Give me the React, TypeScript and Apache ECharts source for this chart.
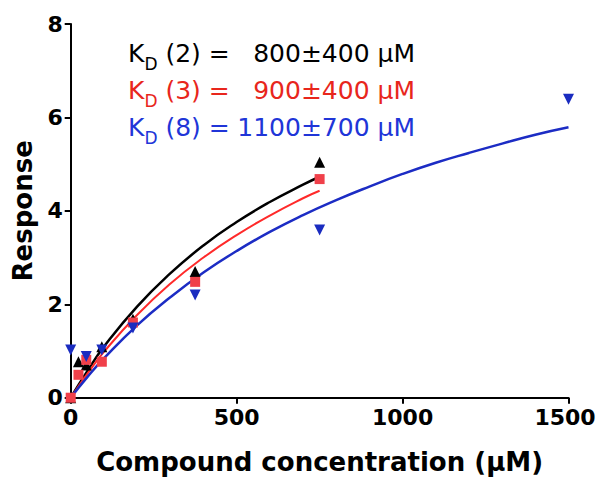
import React, { useEffect, useRef } from "react";
import * as echarts from "echarts";

// measured points
const concentrations = [0, 23.4, 46.9, 93.8, 187.5, 375, 750, 1500];
const resp2 = [0, 0.77, 0.7, 1.09, 1.68, 2.7, 5.04, null];
const resp3 = [0, 0.49, 0.81, 0.77, 1.61, 2.48, 4.68, null];
const resp8 = [1.02, null, 0.88, 1.02, 1.49, 2.2, 3.59, 6.39];

// fitted curves
const fitXShort = [0, 50, 100, 200, 300, 400, 500, 600, 700, 750];
const fit2 = [0, 0.57, 1.09, 1.95, 2.66, 3.26, 3.76, 4.19, 4.56, 4.73];
const fit3 = [0, 0.51, 0.98, 1.77, 2.44, 3.0, 3.48, 3.9, 4.27, 4.43];
const fitXLong = [0, 50, 100, 200, 300, 400, 500, 600, 700, 800, 900, 1000, 1100, 1200, 1300, 1400, 1500];
const fit8 = [0, 0.44, 0.84, 1.55, 2.15, 2.68, 3.14, 3.55, 3.91, 4.23, 4.52, 4.79, 5.03, 5.24, 5.44, 5.63, 5.79];

const xTicks = [0, 500, 1000, 1500];
const yTicks = [0, 2, 4, 6, 8];

const legendLabels = ["2", "3", "8"];
const legendValues = ["800±400 µM", "900±400 µM", "1100±700 µM"];

const FONT = "DejaVu Sans";
const BLACK = "#000000";
const RED_LINE = "#ff2a2a";
const RED_MARK = "#f0404a";
const RED_TEXT = "#e8261c";
const BLUE_LINE = "#1c2cc4";
const BLUE_MARK = "#1a2cc0";
const BLUE_TEXT = "#2035d8";

const pairs = (xs: number[], ys: (number | null)[]) =>
  xs.map((x, i) => [x, ys[i]]).filter((p) => p[1] !== null);

export default function App() {
  const ref = useRef<HTMLDivElement>(null);
  useEffect(() => {
    if (!ref.current) return;
    const chart = echarts.init(ref.current, null, { renderer: "svg" });
    const colors = [BLACK, RED_TEXT, BLUE_TEXT];
    const lineYs = [53, 90, 127];
    const graphic: any[] = [];
    legendLabels.forEach((lab, i) => {
      graphic.push({
        type: "text",
        x: 128,
        y: lineYs[i],
        style: {
          text: `{k|K}{d|D}{k| (${lab}) =}`,
          align: "left",
          verticalAlign: "middle",
          textAlign: "left",
          textVerticalAlign: "middle",
          fill: colors[i],
          rich: {
            k: { fontFamily: FONT, fontSize: 25, lineHeight: 30, fill: colors[i] },
            d: { fontFamily: FONT, fontSize: 17, lineHeight: 17, padding: [22, 0, 0, 0], fill: colors[i] },
          },
        },
      });
      graphic.push({
        type: "text",
        x: 415,
        y: lineYs[i],
        style: {
          text: legendValues[i],
          font: `25px "${FONT}"`,
          align: "right",
          verticalAlign: "middle",
          textAlign: "right",
          textVerticalAlign: "middle",
          fill: colors[i],
        },
      });
    });

    const axisLabel = {
      fontFamily: FONT,
      fontWeight: "bold" as const,
      fontSize: 22,
      color: "#000",
    };
    const nameTextStyle = {
      fontFamily: FONT,
      fontWeight: "bold" as const,
      fontSize: 26,
      color: "#000",
    };
    const lastX = xTicks[xTicks.length - 1];

    chart.setOption({
      animation: false,
      backgroundColor: "#ffffff",
      grid: { left: 70.7, right: 28.5, top: 24, bottom: 80.3, outerBoundsMode: "none", containLabel: false },
      xAxis: {
        type: "value",
        min: xTicks[0],
        max: lastX,
        interval: xTicks[1] - xTicks[0],
        name: "Compound concentration (µM)",
        nameLocation: "middle",
        nameGap: 51,
        nameTextStyle,
        axisLine: { show: true, onZero: false, lineStyle: { color: "#000", width: 2 } },
        axisTick: { show: true, length: 6, lineStyle: { color: "#000", width: 2 } },
        axisLabel: {
          ...axisLabel,
          margin: 9,
          formatter: (v: number) => (v === lastX ? `{e|${v}}` : String(v)),
          rich: {
            e: {
              fontFamily: FONT,
              fontWeight: "bold",
              fontSize: 22,
              color: "#000",
              padding: [0, 7, 0, 0],
            },
          },
        },
        splitLine: { show: false },
      },
      yAxis: {
        type: "value",
        min: yTicks[0],
        max: yTicks[yTicks.length - 1],
        interval: yTicks[1] - yTicks[0],
        name: "Response",
        nameLocation: "middle",
        nameGap: 34,
        nameTextStyle,
        axisLine: { show: true, onZero: false, lineStyle: { color: "#000", width: 2 } },
        axisTick: { show: true, length: 6, lineStyle: { color: "#000", width: 2 } },
        axisLabel: { ...axisLabel, margin: 8, formatter: (v: number) => String(v) },
        splitLine: { show: false },
      },
      graphic,
      series: [
        {
          type: "line",
          data: pairs(fitXShort, fit2),
          smooth: true,
          showSymbol: false,
          lineStyle: { color: BLACK, width: 2.5 },
          z: 2,
        },
        {
          type: "line",
          data: pairs(fitXShort, fit3),
          smooth: true,
          showSymbol: false,
          lineStyle: { color: RED_LINE, width: 2 },
          z: 2,
        },
        {
          type: "line",
          data: pairs(fitXLong, fit8),
          smooth: true,
          showSymbol: false,
          lineStyle: { color: BLUE_LINE, width: 2.5 },
          z: 2,
        },
        {
          type: "scatter",
          data: pairs(concentrations, resp2),
          symbol: "triangle",
          symbolSize: 11,
          itemStyle: { color: BLACK, opacity: 1 },
          clip: false,
          z: 3,
        },
        {
          type: "scatter",
          data: pairs(concentrations, resp3),
          symbol: "rect",
          symbolSize: 10,
          itemStyle: { color: RED_MARK, opacity: 1 },
          clip: false,
          z: 3,
        },
        {
          type: "scatter",
          data: pairs(concentrations, resp8),
          symbol: "triangle",
          symbolRotate: 180,
          symbolSize: 11,
          itemStyle: { color: BLUE_MARK, opacity: 1 },
          clip: false,
          z: 3,
        },
      ],
    });
    return () => chart.dispose();
  }, []);
  return (
    <div
      ref={ref}
      style={{ position: "fixed", left: 0, top: 0, width: 597, height: 478, background: "#fff" }}
    />
  );
}
